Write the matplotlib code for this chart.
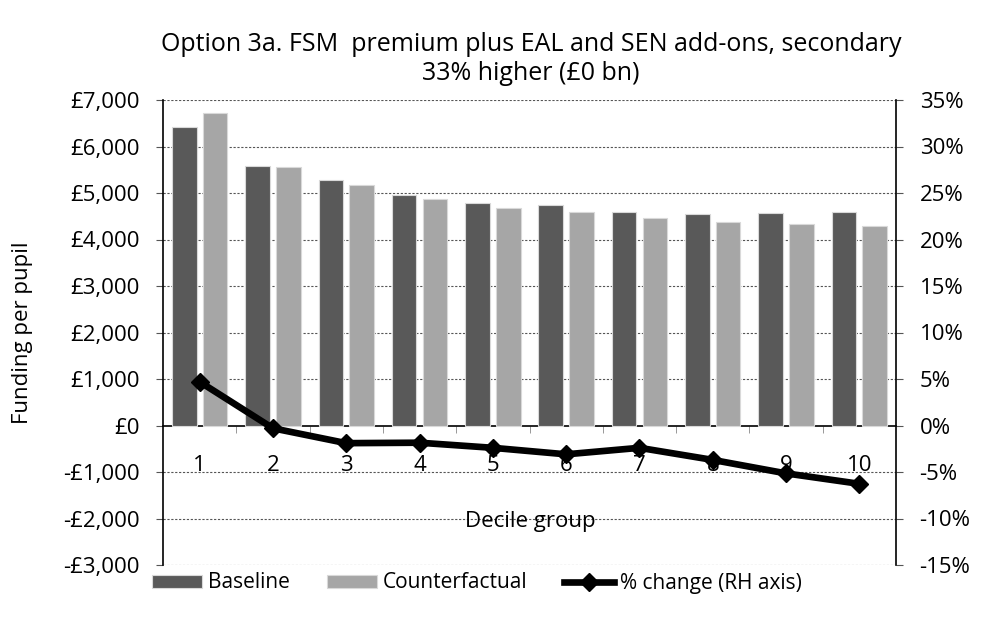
import matplotlib
matplotlib.use("Agg")
import matplotlib.pyplot as plt
import numpy as np
from matplotlib.ticker import FuncFormatter, FixedLocator

plt.rcParams['font.family'] = ['Open Sans', 'DejaVu Sans']

deciles = ['1', '2', '3', '4', '5', '6', '7', '8', '9', '10']
baseline = [6425, 5571, 5270, 4960, 4788, 4738, 4587, 4544, 4573, 4587]
counterfactual = [6720, 5557, 5162, 4867, 4667, 4587, 4473, 4366, 4344, 4300]
pct_change = [4.7, -0.3, -1.9, -1.85, -2.4, -3.1, -2.4, -3.7, -5.15, -6.27]

title = "Option 3a. FSM  premium plus EAL and SEN add-ons, secondary\n33% higher (£0 bn)"

fig = plt.figure(figsize=(9.82, 6.23), dpi=100)
ax = fig.add_axes([163/982, 1-565/623, (896-163)/982, (565-100)/623])

x = np.arange(len(deciles))
w = 0.335
off = 0.21
ax.bar(x - off, baseline, w, color='#595959', edgecolor='#d9d9d9', linewidth=0.8, label='Baseline', zorder=3)
ax.bar(x + off, counterfactual, w, color='#a6a6a6', edgecolor='#d9d9d9', linewidth=0.8, label='Counterfactual', zorder=3)

ax.set_xlim(-0.5, len(deciles) - 0.5)
ax.set_ylim(-3000, 7000)
ax.set_yticks(np.arange(-3000, 7001, 1000))
ax.yaxis.set_major_formatter(FuncFormatter(lambda v, p: ('-£{:,.0f}'.format(-v) if v < 0 else '£{:,.0f}'.format(v))))
for yv in np.arange(-3000, 7001, 1000):
    if yv != 0:
        ax.axhline(yv, color='#555555', linewidth=0.8, linestyle=(0, (2, 1.5)), zorder=1)

ax.spines['top'].set_visible(False)
ax.spines['right'].set_visible(False)
ax.spines['bottom'].set_position(('data', 0))
ax.spines['bottom'].set_linewidth(1.2)
ax.spines['left'].set_linewidth(1.2)
ax.set_xticks(x)
ax.set_xticklabels(deciles)
ax.xaxis.set_minor_locator(FixedLocator(np.arange(0.5, len(deciles) - 0.5, 1)))
ax.tick_params(axis='x', which='major', length=0, pad=21, labelsize=16)
ax.tick_params(axis='x', which='minor', length=5, direction='out', color='#888888')
ax.tick_params(axis='y', length=5, direction='out', labelsize=16, color='#555555', pad=12)
ax.set_ylabel('Funding per pupil', fontsize=16)
ax.yaxis.set_label_coords((33-163)/733, 0.5)

ax2 = ax.twinx()
ax2.plot(x, pct_change, color='black', linewidth=4.8, marker='D', markersize=9.5, zorder=5, label='% change (RH axis)')
ax2.set_ylim(-15, 35)
ax2.set_yticks(np.arange(-15, 36, 5))
ax2.yaxis.set_major_formatter(FuncFormatter(lambda v, p: '{:.0f}%'.format(v)))
for s in ['top', 'bottom', 'left']:
    ax2.spines[s].set_visible(False)
ax2.spines['right'].set_linewidth(1.2)
ax2.tick_params(axis='y', length=5, direction='out', labelsize=16, color='#555555', pad=12)

fig.text(531/982, 1-59/623, title, ha='center', va='center', fontsize=18, linespacing=1.22)
fig.text(530/982, 1-522/623, 'Decile group', ha='center', va='center', fontsize=16)

h1, l1 = ax.get_legend_handles_labels()
h2, l2 = ax2.get_legend_handles_labels()
fig.legend(h1 + h2, l1 + l2, loc='center', bbox_to_anchor=(477/982, 1-583/623), ncol=3, frameon=False,
           fontsize=15, handlelength=2.4, handleheight=0.6, columnspacing=1.8, handletextpad=0.25)

fig.savefig('out.png', dpi=100)
